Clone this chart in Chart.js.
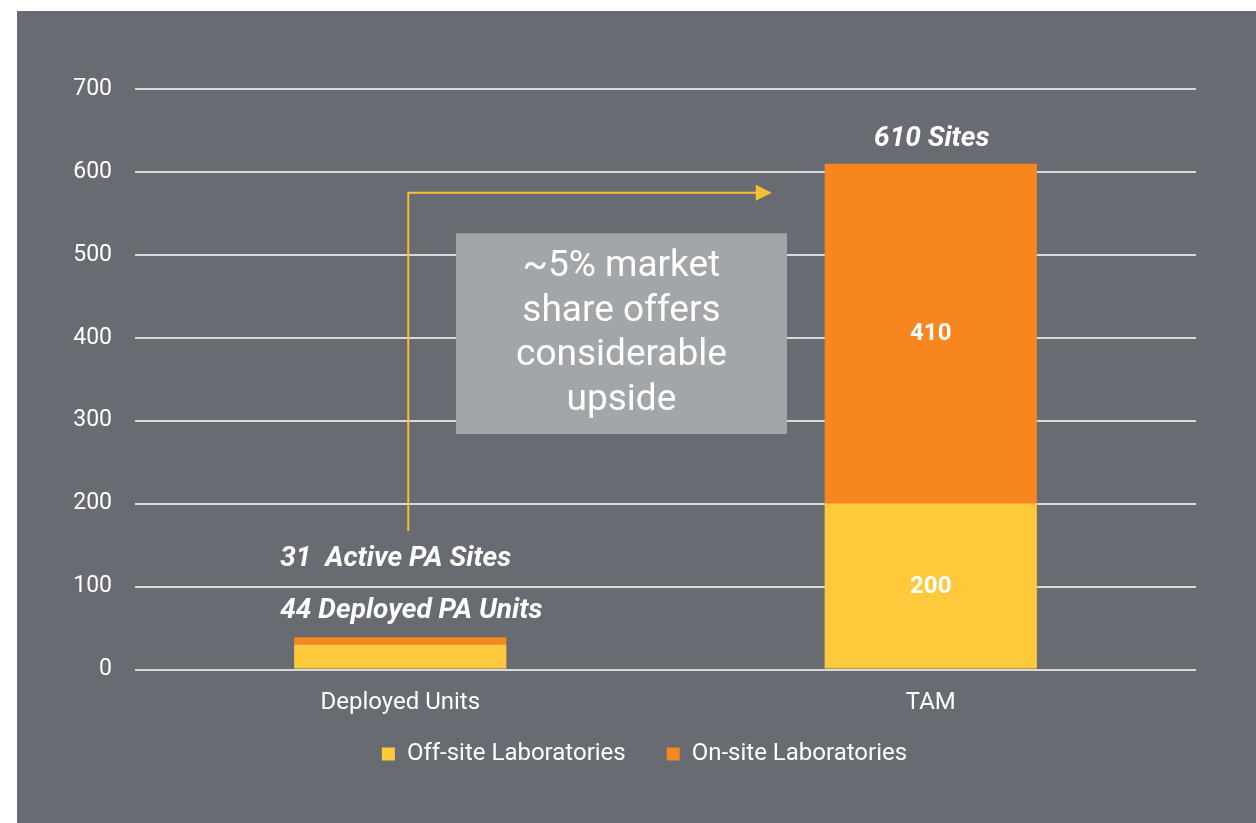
<!DOCTYPE html>
<html>
<head>
<meta charset="utf-8">
<script src="https://cdn.jsdelivr.net/npm/chart.js@4/dist/chart.umd.min.js"></script>
<style>
  html, body { margin: 0; padding: 0; background: #ffffff; }
  #wrap {
    position: absolute; left: 17px; top: 11px;
    width: 1239px; height: 812px;
    background: #686b71;
  }
</style>
</head>
<body>
<div id="wrap"><canvas id="myChart"></canvas></div>
<script>
const categories = ['Deployed Units', 'TAM'];
const offSite = [30, 200];
const onSite = [9, 410];
const yTicks = [0, 100, 200, 300, 400, 500, 600, 700];

const FONT = 'Roboto, "Noto Sans", sans-serif';

// text and arrow drawn on top of the bars
const notes = {
  id: 'notes',
  afterLayout(chart) {
    // the x axis is squeezed so the legend sits close, let its labels show anyway
    chart.scales.x.bottom += 40;
  },
  afterDatasetsDraw(chart) {
    const ctx = chart.ctx;
    const x = chart.scales.x;
    const y = chart.scales.y;
    const x0 = x.getPixelForValue(0);
    const x1 = x.getPixelForValue(1);

    ctx.save();
    ctx.fillStyle = '#ffffff';
    ctx.textBaseline = 'middle';

    // values inside the TAM bar
    ctx.font = 'bold 24px ' + FONT;
    ctx.textAlign = 'center';
    ctx.fillText(String(onSite[1]), x1, y.getPixelForValue(offSite[1] + onSite[1] / 2));
    ctx.fillText(String(offSite[1]), x1, y.getPixelForValue(offSite[1] / 2));

    // totals
    ctx.font = 'italic bold 28px ' + FONT;
    ctx.fillText((offSite[1] + onSite[1]) + ' Sites', x1 + 1, y.getPixelForValue(offSite[1] + onSite[1]) - 25);

    ctx.textAlign = 'left';
    ctx.fillText('31  Active PA Sites', x0 - 120, y.getPixelForValue(133));
    ctx.fillText('44 Deployed PA Units', x0 - 120, y.getPixelForValue(71));

    // arrow
    const ax = x0 + 8;
    const ayTop = y.getPixelForValue(575);
    const ayBot = y.getPixelForValue(167);
    const aEnd = x1 - 159;
    ctx.strokeStyle = '#f9bf33';
    ctx.fillStyle = '#f9bf33';
    ctx.lineWidth = 2;
    ctx.beginPath();
    ctx.moveTo(ax, ayBot);
    ctx.lineTo(ax, ayTop);
    ctx.lineTo(aEnd - 14, ayTop);
    ctx.stroke();
    ctx.beginPath();
    ctx.moveTo(aEnd, ayTop);
    ctx.lineTo(aEnd - 16, ayTop - 8);
    ctx.lineTo(aEnd - 16, ayTop + 8);
    ctx.closePath();
    ctx.fill();

    // callout box
    const bx = x0 + (x1 - x0) * 0.417;
    const bTop = y.getPixelForValue(526);
    const bBot = y.getPixelForValue(284);
    ctx.fillStyle = '#a2a6a9';
    ctx.fillRect(bx - 165.5, bTop, 331, bBot - bTop);
    ctx.fillStyle = '#ffffff';
    ctx.font = '37px ' + FONT;
    ctx.textAlign = 'center';
    const lines = ['~5% market', 'share offers', 'considerable', 'upside'];
    const mid = (bTop + bBot) / 2;
    lines.forEach((t, i) => {
      ctx.fillText(t, bx, mid + (i - 1.5) * 44.5);
    });
    ctx.restore();
  }
};

const data = {
  labels: categories,
  datasets: [
    {
      label: 'Off-site Laboratories',
      data: offSite,
      backgroundColor: '#ffc93c',
      barPercentage: 0.4,
      categoryPercentage: 1
    },
    {
      label: 'On-site Laboratories',
      data: onSite,
      backgroundColor: '#f7861f',
      barPercentage: 0.4,
      categoryPercentage: 1
    }
  ]
};

const config = {
  type: 'bar',
  data: data,
  options: {
    responsive: true,
    maintainAspectRatio: false,
    animation: false,
    layout: { padding: { left: 16, right: 0, top: 78, bottom: 47 } },
    plugins: {
      legend: {
        position: 'bottom',
        labels: {
          color: '#ffffff',
          font: { family: FONT, size: 24 },
          boxWidth: 13,
          boxHeight: 13,
          padding: 41
        }
      },
      tooltip: { enabled: false }
    },
    scales: {
      x: {
        stacked: true,
        grid: { display: false, drawTicks: false },
        border: { display: false },
        ticks: { color: '#ffffff', font: { family: FONT, size: 24 }, padding: 19 },
        afterFit: (s) => { s.height = 31.5; }
      },
      y: {
        stacked: true,
        min: yTicks[0],
        max: yTicks[yTicks.length - 1],
        afterBuildTicks: (s) => { s.ticks = yTicks.map(v => ({ value: v })); },
        grid: { color: '#d9d9d9', lineWidth: 2, drawTicks: false },
        border: { display: false },
        ticks: { color: '#ffffff', font: { family: FONT, size: 23 }, padding: 23 },
        afterFit: (s) => { s.width = 102; }
      },
      // empty right gutter
      y2: {
        position: 'right',
        display: true,
        grid: { display: false, drawTicks: false },
        border: { display: false },
        ticks: { display: false },
        afterFit: (s) => { s.width = 60; }
      }
    }
  },
  plugins: [notes]
};

const ctx = document.getElementById('myChart');
const myChart = new Chart(ctx, config);
</script>
</body>
</html>
